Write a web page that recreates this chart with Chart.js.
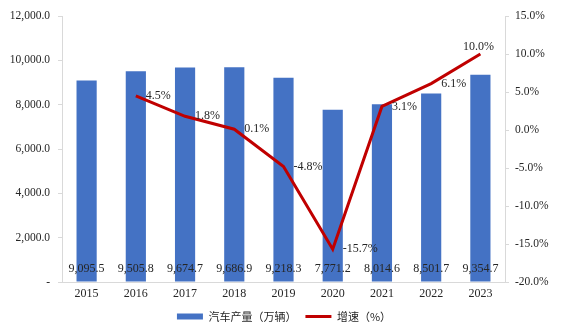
<!DOCTYPE html>
<html><head><meta charset="utf-8">
<script src="https://cdn.jsdelivr.net/npm/chart.js@4/dist/chart.umd.min.js"></script>
<style>html,body{margin:0;padding:0;background:#fff}#wrap{width:568px;height:334px}</style>
</head><body><div id="wrap"><canvas id="c" width="568" height="334"></canvas></div>
<script>
const years = ['2015','2016','2017','2018','2019','2020','2021','2022','2023'];
const production = [9095.5, 9505.8, 9674.7, 9686.9, 9218.3, 7771.2, 8014.6, 8501.7, 9354.7];
const growth = [null, 4.5, 1.8, 0.1, -4.8, -15.7, 3.1, 6.1, 10.0];
const seriesNames = ['汽车产量（万辆）', '增速（%）'];

const serif = '"Liberation Serif", "Times New Roman", serif';
const cjk = '"Noto Sans CJK SC", sans-serif';
const txt = '#262626';

const labelPlugin = {
  id: 'valLabels',
  afterDatasetsDraw(chart) {
    const ctx = chart.ctx;
    ctx.save();
    ctx.font = '12px ' + serif;
    ctx.fillStyle = txt;
    const barMeta = chart.getDatasetMeta(0);
    barMeta.data.forEach((el, i) => {
      const v = production[i];
      ctx.textAlign = 'center';
      ctx.textBaseline = 'middle';
      ctx.fillText(v.toLocaleString('en-US', {minimumFractionDigits: 1, maximumFractionDigits: 1}), el.x, chart.chartArea.bottom - 13);
    });
    const lineMeta = chart.getDatasetMeta(1);
    lineMeta.data.forEach((el, i) => {
      const v = growth[i];
      if (v === null) return;
      const s = v.toFixed(1) + '%';
      if (i === growth.length - 1) {
        ctx.textAlign = 'center';
        ctx.textBaseline = 'middle';
        ctx.fillText(s, el.x - 2, el.y - 7);
      } else {
        ctx.textAlign = 'left';
        ctx.textBaseline = 'middle';
        ctx.fillText(s, el.x + 10, el.y);
      }
    });
    ctx.restore();
  }
};

new Chart(document.getElementById('c'), {
  data: {
    labels: years,
    datasets: [
      { type: 'bar', label: seriesNames[0], data: production, backgroundColor: '#4472C4', borderWidth: 0, yAxisID: 'y', order: 1, barPercentage: 0.82, categoryPercentage: 0.5 },
      { type: 'line', label: seriesNames[1], data: growth, borderColor: '#C00000', backgroundColor: '#C00000', borderWidth: 3, pointRadius: 0, tension: 0, yAxisID: 'y1', order: 0 }
    ]
  },
  options: {
    responsive: false,
    animation: false,
    layout: { padding: { top: 16, left: 0, right: 0, bottom: 2 } },
    plugins: {
      tooltip: { enabled: false },
      legend: {
        position: 'bottom',
        labels: {
          usePointStyle: true,
          pointStyleWidth: 26,
          boxHeight: 6,
          padding: 9,
          color: txt,
          font: { family: cjk, size: 11 },
          generateLabels(chart) {
            return [
              { text: seriesNames[0], fillStyle: '#4472C4', strokeStyle: '#4472C4', lineWidth: 0, pointStyle: 'rect', datasetIndex: 0, fontColor: txt },
              { text: seriesNames[1], fillStyle: '#C00000', strokeStyle: '#C00000', lineWidth: 3, pointStyle: 'line', datasetIndex: 1, fontColor: txt }
            ];
          }
        }
      }
    },
    scales: {
      x: {
        offset: true,
        grid: { display: false, drawTicks: false },
        border: { color: '#D9D9D9' },
        ticks: { color: txt, font: { family: serif, size: 12 }, padding: 5 },
        afterFit(s) { s.height = 20; }
      },
      y: {
        position: 'left',
        min: 0, max: 12000,
        ticks: { stepSize: 2000, color: txt, font: { family: serif, size: 11.5 }, padding: 8,
          callback: v => v === 0 ? '-' : v.toLocaleString('en-US', {minimumFractionDigits: 1, maximumFractionDigits: 1}) },
        grid: { drawOnChartArea: false, tickLength: 4, color: '#D9D9D9' },
        border: { color: '#D9D9D9' },
        afterFit(s) { s.width = 62; }
      },
      y1: {
        position: 'right',
        min: -20, max: 15,
        ticks: { stepSize: 5, color: txt, font: { family: serif, size: 11.5 }, padding: 6,
          callback: v => v.toFixed(1) + '%' },
        grid: { drawOnChartArea: false, tickLength: 4, color: '#D9D9D9' },
        border: { color: '#D9D9D9' },
        afterFit(s) { s.width = 63; }
      }
    }
  },
  plugins: [labelPlugin]
});
</script></body></html>
